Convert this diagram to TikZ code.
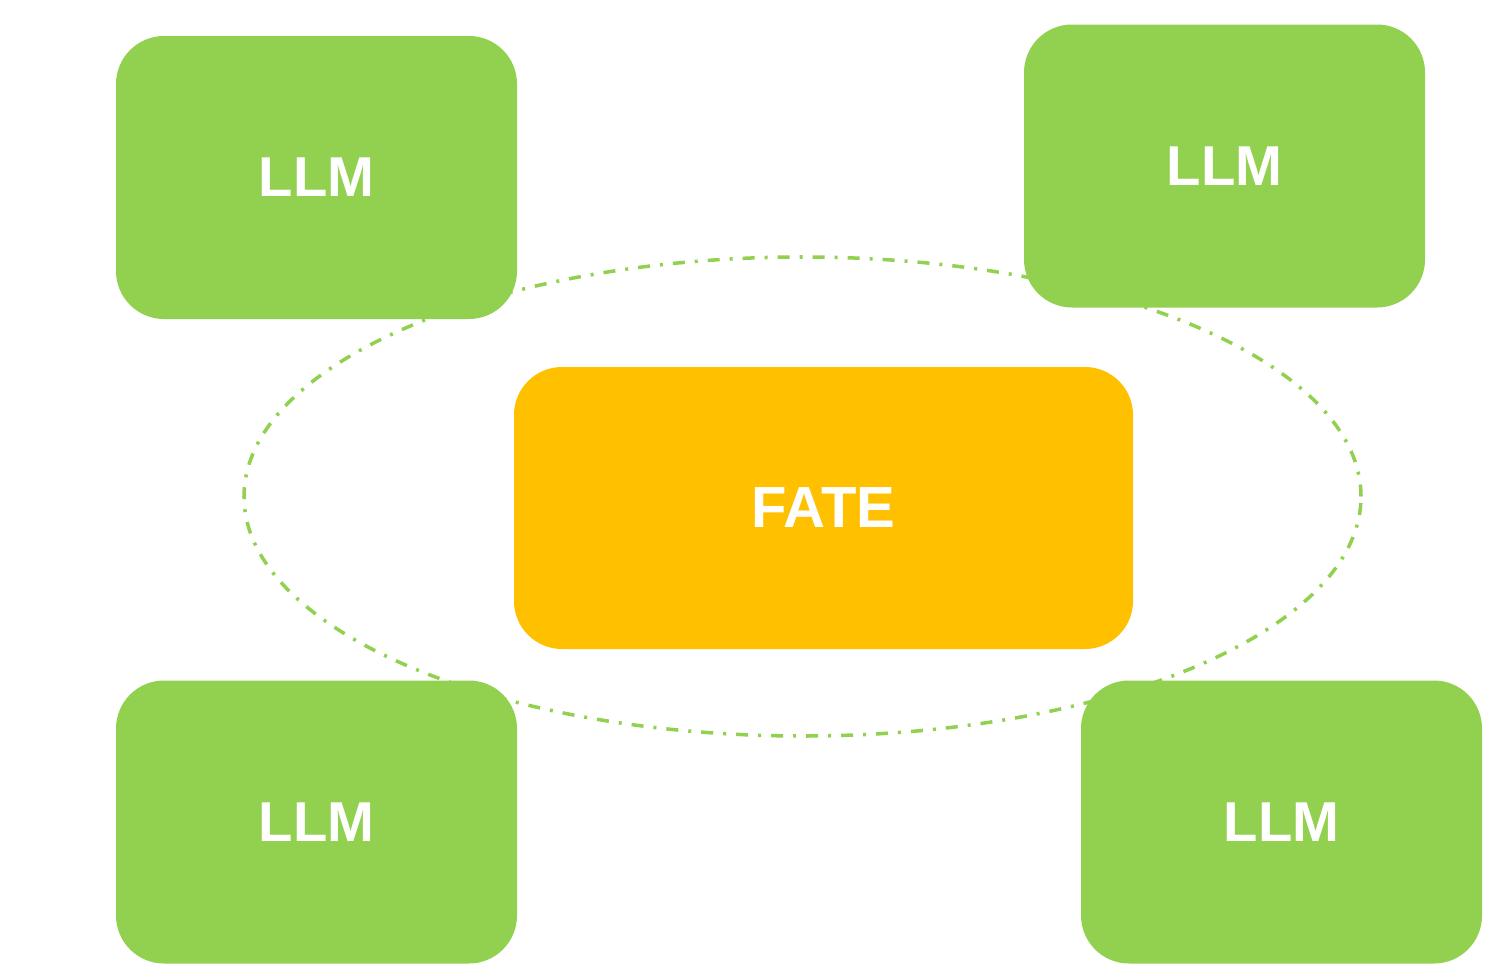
\documentclass[tikz,border=0pt]{standalone}
\usepackage{fontspec}
\setmainfont{Liberation Sans}
\usepackage{xcolor}
\usetikzlibrary{shapes.geometric}
\definecolor{llmgreen}{HTML}{92D050}
\definecolor{fateyellow}{HTML}{FFC000}

\begin{document}
\begin{tikzpicture}[
  llm/.style={rectangle, fill=llmgreen, rounded corners=0.96cm, minimum width=8.02cm, minimum height=5.66cm, text=white, font=\fontsize{32}{40}\selectfont\bfseries},
  fate/.style={rectangle, fill=fateyellow, rounded corners=0.96cm, minimum width=12.38cm, minimum height=5.64cm, text=white, font=\fontsize{33}{40}\selectfont\bfseries},
  ring/.style={ellipse, draw=llmgreen, line width=2pt, dash pattern=on 0.24cm off 0.2cm on 0.06cm off 0.2cm, inner sep=0pt, minimum width=22.34cm, minimum height=9.58cm}
]
  \useasboundingbox (0,0) rectangle (30.16,-19.6);
  \node[ring] (group) at (16.05,-9.93) {};
  \node[fate] (fate) at (16.47,-10.16) {FATE};
  \node[llm] (llm1) at (6.33,-3.55) {LLM};
  \node[llm] (llm2) at (24.49,-3.32) {LLM};
  \node[llm] (llm3) at (6.33,-16.44) {LLM};
  \node[llm] (llm4) at (25.63,-16.44) {LLM};
\end{tikzpicture}
\end{document}
